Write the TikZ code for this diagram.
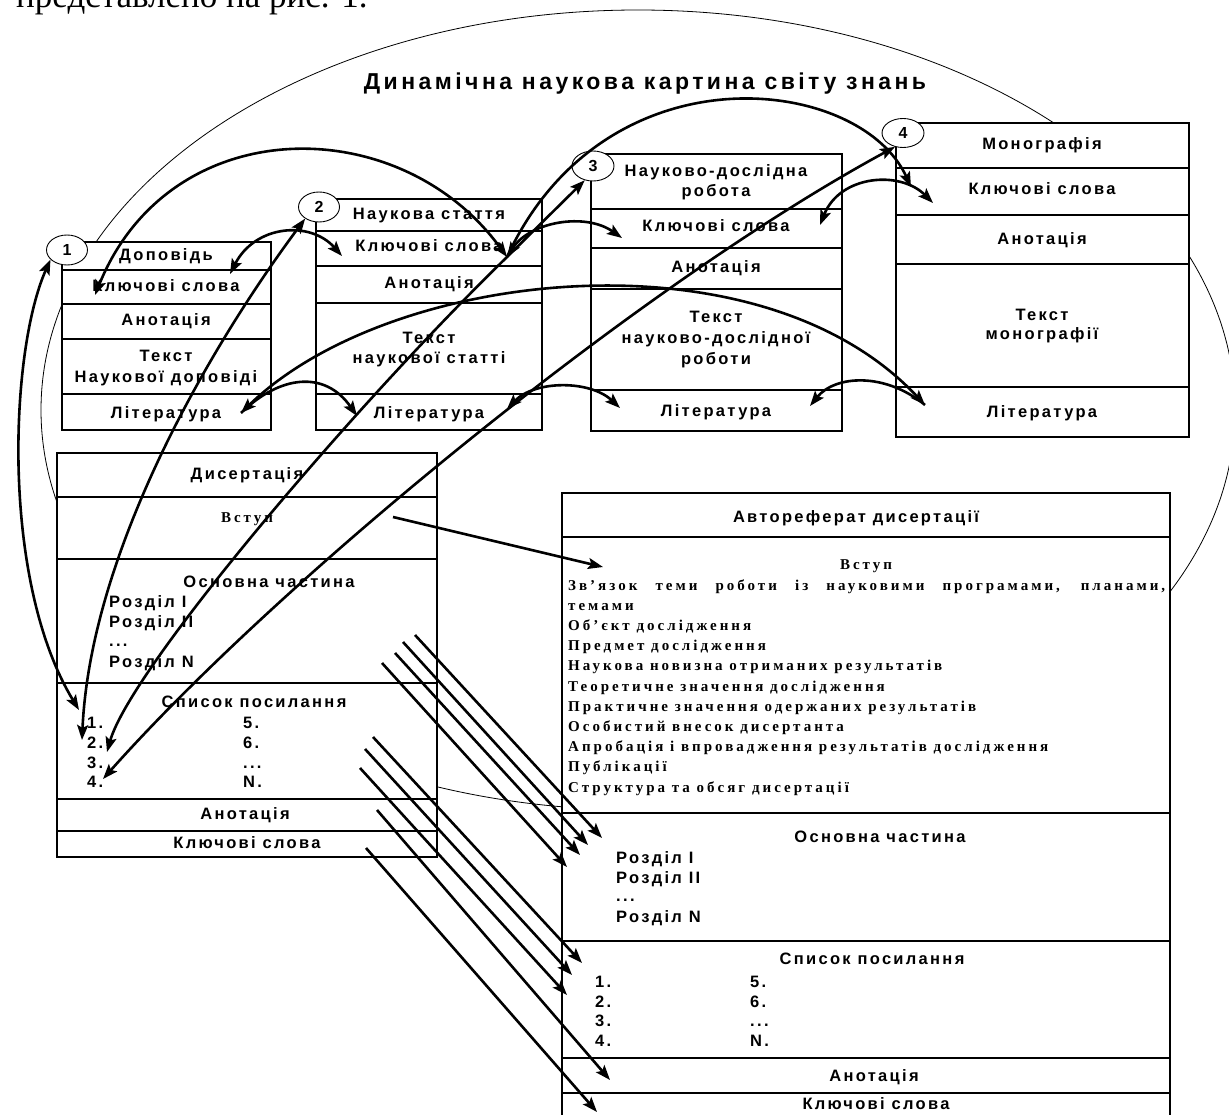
\documentclass[tikz,border=0pt]{standalone}
\usepackage{fontspec}
\setmainfont{Liberation Serif}
\newfontfamily\bsans[LetterSpace=14]{Liberation Sans}
\newfontfamily\tsans[LetterSpace=15]{Liberation Sans}
\newfontfamily\bser[LetterSpace=20]{Liberation Serif}
\newfontfamily\plainser{Liberation Serif}
\usetikzlibrary{arrows.meta,shapes.geometric}
\tikzset{
  box/.style={draw, fill=white, line width=2.6pt},
  sep/.style={line width=2.6pt},
  thinline/.style={line width=0.8pt},
  lbl/.style={anchor=base, inner sep=0pt, font=\bsans\bfseries\fontsize{16.5}{19}\selectfont},
  lbll/.style={lbl, anchor=base west},
  ser/.style={anchor=base west, inner sep=0pt, font=\bser\bfseries\fontsize{15}{18}\selectfont},
  serc/.style={ser, anchor=base},
  num/.style={ellipse, draw, fill=white, line width=0.9pt, minimum width=41pt, minimum height=30pt, inner sep=0pt, font=\bsans\bfseries\fontsize{16}{18}\selectfont},
  conn/.style={line width=2.6pt},
}
\begin{document}
\begin{tikzpicture}[x=1pt,y=1pt,>={Stealth[length=15pt,width=11pt,inset=3pt]}]
\useasboundingbox (0,0) rectangle (1229,-1115);
\fill[white] (0,0) rectangle (1229,-1115);
\clip (0,0) rectangle (1229,-1115);

% partial line of page text (cut by the top edge)
\node[anchor=base west, inner sep=0pt, font=\plainser\fontsize{35}{35}\selectfont] (pre) at (16,-8) {представлено на рис. 1.};

% title
\node[anchor=base, inner sep=0pt, font=\tsans\bfseries\fontsize{23}{26}\selectfont] (title) at (645,-90) {Динамічна наукова картина світу знань};

% big thin ellipse
\draw[thinline] (638,-410) ellipse [x radius=597pt, y radius=400pt];

% ---- box 1
\draw[box] (62,-242) rectangle (271,-430);
\foreach \y in {270,304,339,394} \draw[sep] (62,-\y) -- (271,-\y);
\node[lbl] (b1a) at (166,-261) {Доповідь};
\node[lbl] (b1b) at (166,-292) {Ключові слова};
\node[lbl] (b1c) at (166,-326) {Анотація};
\node[lbl] (b1d) at (166,-362) {Текст};
\node[lbl] (b1e) at (166,-382) {Наукової доповіді};
\node[lbl] (b1f) at (166,-418) {Література};

% ---- box 2
\draw[box] (316,-199) rectangle (542,-430);
\foreach \y in {231,266,303,394} \draw[sep] (316,-\y) -- (542,-\y);
\node[lbl] (b2a) at (429,-220) {Наукова стаття};
\node[lbl] (b2b) at (429,-252) {Ключові слова};
\node[lbl] (b2c) at (429,-289) {Анотація};
\node[lbl] (b2d) at (429,-343) {Текст};
\node[lbl] (b2e) at (429,-363) {наукової статті};
\node[lbl] (b2f) at (429,-418) {Література};

% ---- box 3
\draw[box] (591,-154) rectangle (842,-431);
\foreach \y in {209,248,289,390} \draw[sep] (591,-\y) -- (842,-\y);
\node[lbl] (b3a) at (716,-177) {Науково-дослідна};
\node[lbl] (b3b) at (716,-197) {робота};
\node[lbl] (b3c) at (716,-232) {Ключові слова};
\node[lbl] (b3d) at (716,-273) {Анотація};
\node[lbl] (b3e) at (716,-323) {Текст};
\node[lbl] (b3f) at (716,-344) {науково-дослідної};
\node[lbl] (b3g) at (716,-364) {роботи};
\node[lbl] (b3h) at (716,-416) {Література};

% ---- box 4
\draw[box] (896,-123) rectangle (1189,-437);
\foreach \y in {168,215,264,387} \draw[sep] (896,-\y) -- (1189,-\y);
\node[lbl] (b4a) at (1042,-150) {Монографія};
\node[lbl] (b4b) at (1042,-195) {Ключові слова};
\node[lbl] (b4c) at (1042,-245) {Анотація};
\node[lbl] (b4d) at (1042,-320) {Текст};
\node[lbl] (b4e) at (1042,-340) {монографії};
\node[lbl] (b4f) at (1042,-417) {Література};

% ---- dissertation
\draw[box] (57,-453) rectangle (437,-857);
\foreach \y in {497,559,683,799,831} \draw[sep] (57,-\y) -- (437,-\y);
\node[lbl] (d0) at (247,-479) {Дисертація};
\node[serc] (dvs) at (247,-522) {Вступ};
\node[lbl] (dos) at (269,-587) {Основна частина};
\node[lbll] (dr1) at (109,-607) {Розділ I};
\node[lbll] (dr2) at (109,-627) {Розділ II};
\node[lbll] (dr3) at (109,-646) {...};
\node[lbll] (dr4) at (109,-667) {Розділ N};
\node[lbl] (dsp) at (254,-707) {Список посилання};
\node[lbll] (dn1) at (87,-728) {1.};
\node[lbll] (dn2) at (87,-748) {2.};
\node[lbll] (dn3) at (87,-768) {3.};
\node[lbll] (dn4) at (87,-787) {4.};
\node[lbll] (dn5) at (243,-728) {5.};
\node[lbll] (dn6) at (243,-748) {6.};
\node[lbll] (dn7) at (243,-768) {...};
\node[lbll] (dn8) at (243,-787) {N.};
\node[lbl] (dan) at (245,-819) {Анотація};
\node[lbl] (dks) at (247,-848) {Ключові слова};

% ---- autoreferat
\draw[box] (562,-493) rectangle (1170,-1118);
\foreach \y in {537,813,941,1058,1093} \draw[sep] (562,-\y) -- (1170,-\y);
\node[lbl] (a0) at (856,-522) {Автореферат дисертації};
\node[serc] (avs) at (866,-569) {Вступ};
\node[ser] (ai1) at (568,-590) {\makebox[597pt][s]{Зв’язок теми роботи із науковими програмами, планами,}};
\node[ser] (ai2) at (568,-610.2) {темами};
\node[ser] (ai3) at (568,-630.4) {Об’єкт дослідження};
\node[ser] (ai4) at (568,-650.6) {Предмет дослідження};
\node[ser] (ai5) at (568,-670.8) {Наукова новизна отриманих результатів};
\node[ser] (ai6) at (568,-691) {Теоретичне значення дослідження};
\node[ser] (ai7) at (568,-711.2) {Практичне значення одержаних результатів};
\node[ser] (ai8) at (568,-731.4) {Особистий внесок дисертанта};
\node[ser] (ai9) at (568,-751.6) {Апробація і впровадження результатів дослідження};
\node[ser] (ai10) at (568,-771.8) {Публікації};
\node[ser] (ai11) at (568,-792) {Структура та обсяг дисертації};
\node[lbl] (aos) at (880,-842) {Основна частина};
\node[lbll] (ar1) at (616,-863) {Розділ I};
\node[lbll] (ar2) at (616,-883) {Розділ II};
\node[lbll] (ar3) at (616,-901) {...};
\node[lbll] (ar4) at (616,-922) {Розділ N};
\node[lbl] (asp) at (872,-964) {Список посилання};
\node[lbll] (an1) at (595,-987) {1.};
\node[lbll] (an2) at (595,-1007) {2.};
\node[lbll] (an3) at (595,-1026) {3.};
\node[lbll] (an4) at (595,-1046) {4.};
\node[lbll] (an5) at (750,-987) {5.};
\node[lbll] (an6) at (750,-1007) {6.};
\node[lbll] (an7) at (750,-1026) {...};
\node[lbll] (an8) at (750,-1046) {N.};
\node[lbl] (aan) at (874,-1081) {Анотація};
\node[lbl] (aks) at (876,-1109) {Ключові слова};

% ---- numbered ellipses
\node[num] (c1) at (67,-250) {1};
\node[num] (c2) at (319,-207) {2};
\node[num, minimum width=42pt] (c3) at (593,-166) {3};
\node[num, minimum width=42pt, minimum height=29pt] (c4) at (903,-133) {4};

% ---- connector end points
\coordinate (k1) at (95,-295);
\coordinate (k1r) at (230,-274);
\coordinate (k2l) at (342,-256);
\coordinate (p2k) at (507,-257);
\coordinate (k3l) at (622,-238);
\coordinate (k3r) at (820,-225);
\coordinate (k4a) at (911,-187);
\coordinate (k4b) at (933,-203);
\coordinate (l1) at (241,-413);
\coordinate (l2l) at (357,-416);
\coordinate (p2l) at (507,-409);
\coordinate (l3l) at (620,-408);
\coordinate (l3r) at (810,-406);
\coordinate (l4) at (925,-405);
\coordinate (d1) at (79,-710);
\coordinate (d2) at (82,-740);
\coordinate (d3) at (107,-752);
\coordinate (d4) at (103,-779);
\coordinate (dv) at (393,-517);
\coordinate (av) at (603,-567);

% ---- connectors
\draw[conn,<->] (c1.210) .. controls (10,-350) and (0,-580) .. (d1);
\draw[conn,<->] (d2) .. controls (90,-560) and (200,-360) .. (c2.220);
\draw[conn,<->] (d3) .. controls (130,-670) and (350,-410) .. (p2k) -- (c3.240);
\draw[conn,<->] (d4) .. controls (280,-580) and (640,-285) .. (c4.240);
\draw[conn,<->] (k1) .. controls (170,-110) and (400,-110) .. (p2k);
\draw[conn,->] (p2k) .. controls (605,-45) and (860,-75) .. (k4a);
\draw[conn,<->] (k1r) .. controls (255,-225) and (310,-220) .. (k2l);
\draw[conn,<->] (p2k) .. controls (530,-222) and (585,-212) .. (k3l);
\draw[conn,<->] (k3r) .. controls (840,-175) and (900,-170) .. (k4b);
\draw[conn,<->] (l1) .. controls (390,-268) and (760,-228) .. (l4);
\draw[conn,->] (l1) .. controls (280,-375) and (325,-370) .. (l2l);
\draw[conn,<->] (p2l) .. controls (535,-380) and (590,-380) .. (l3l);
\draw[conn,<-] (l3r) .. controls (835,-375) and (885,-372) .. (l4);
\draw[conn,->] (dv) -- (av);

% diagonal arrows dissertation -> autoreferat
\coordinate (s1) at (415,-635); \coordinate (e1) at (602,-838);
\coordinate (s2) at (403,-642); \coordinate (e2) at (588,-845);
\coordinate (s3) at (395,-653); \coordinate (e3) at (580,-855);
\coordinate (s4) at (382,-663); \coordinate (e4) at (567,-867);
\coordinate (s5) at (373,-737); \coordinate (e5) at (582,-963);
\coordinate (s6) at (365,-749); \coordinate (e6) at (572,-975);
\coordinate (s7) at (360,-768); \coordinate (e7) at (567,-995);
\coordinate (s8) at (377,-810); \coordinate (e8) at (610,-1080);
\coordinate (s9) at (366,-848); \coordinate (e9) at (597,-1112);
\foreach \i in {1,...,9} \draw[conn,->] (s\i) -- (e\i);
\end{tikzpicture}
\end{document}
